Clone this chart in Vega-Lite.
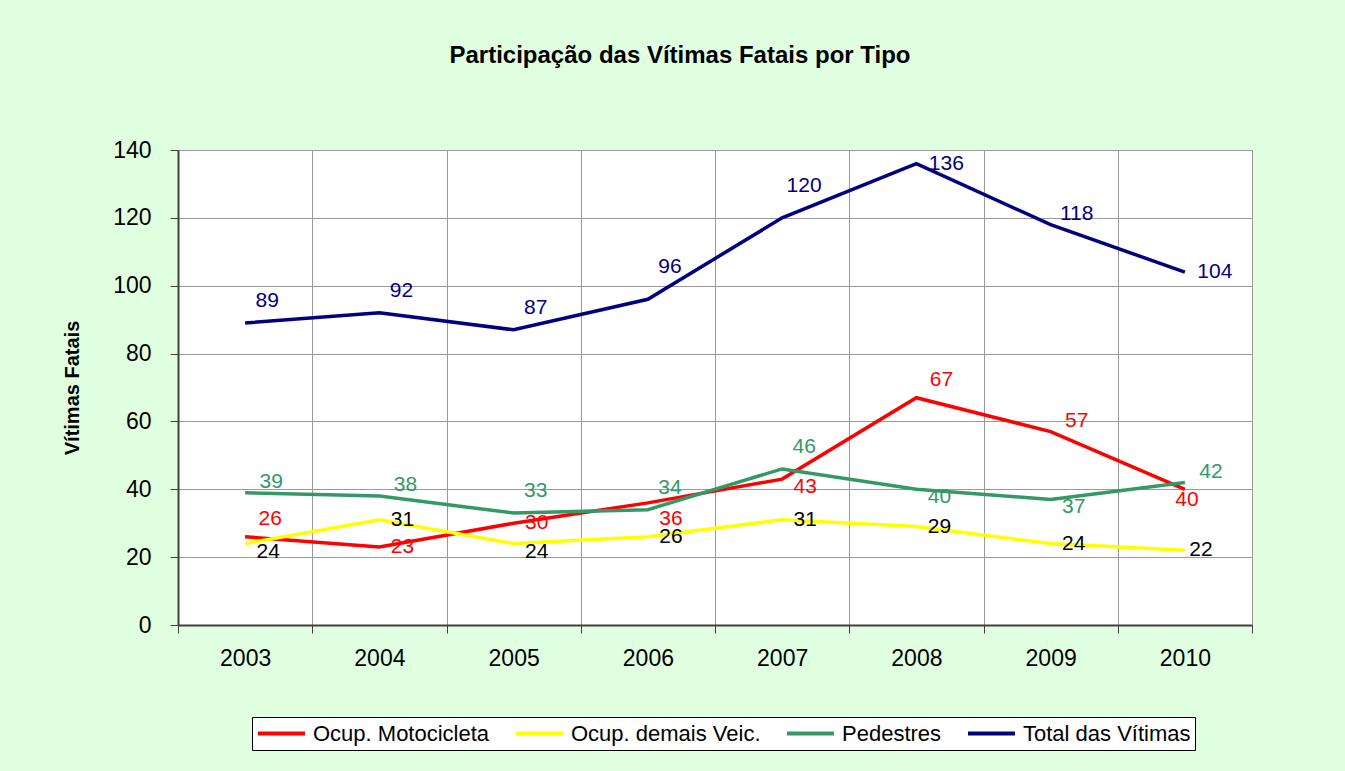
{
  "$schema": "https://vega.github.io/schema/vega-lite/v6.json",
  "width": 1074,
  "height": 475,
  "autosize": {"type": "none"},
  "padding": {"left": 178, "top": 150, "right": 93, "bottom": 146},
  "background": "#E0FFE0",
  "title": {"text": "Participação das Vítimas Fatais por Tipo", "fontSize": 24, "font": "Liberation Sans", "fontWeight": "bold", "color": "#000000", "anchor": "middle", "dx": -35, "offset": 52, "baseline": "alphabetic"},
  "config": {
    "view": {"stroke": "#999999", "fill": "#FFFFFF"},
    "font": "Liberation Sans"
  },
  "data": {"values": [
    {"year": "2003", "serie": "Ocup. Motocicleta", "s": "M", "v": 26},
    {"year": "2004", "serie": "Ocup. Motocicleta", "s": "M", "v": 23},
    {"year": "2005", "serie": "Ocup. Motocicleta", "s": "M", "v": 30},
    {"year": "2006", "serie": "Ocup. Motocicleta", "s": "M", "v": 36},
    {"year": "2007", "serie": "Ocup. Motocicleta", "s": "M", "v": 43},
    {"year": "2008", "serie": "Ocup. Motocicleta", "s": "M", "v": 67},
    {"year": "2009", "serie": "Ocup. Motocicleta", "s": "M", "v": 57},
    {"year": "2010", "serie": "Ocup. Motocicleta", "s": "M", "v": 40},
    {"year": "2003", "serie": "Ocup. demais Veic.", "s": "D", "v": 24},
    {"year": "2004", "serie": "Ocup. demais Veic.", "s": "D", "v": 31},
    {"year": "2005", "serie": "Ocup. demais Veic.", "s": "D", "v": 24},
    {"year": "2006", "serie": "Ocup. demais Veic.", "s": "D", "v": 26},
    {"year": "2007", "serie": "Ocup. demais Veic.", "s": "D", "v": 31},
    {"year": "2008", "serie": "Ocup. demais Veic.", "s": "D", "v": 29},
    {"year": "2009", "serie": "Ocup. demais Veic.", "s": "D", "v": 24},
    {"year": "2010", "serie": "Ocup. demais Veic.", "s": "D", "v": 22},
    {"year": "2003", "serie": "Pedestres", "s": "P", "v": 39},
    {"year": "2004", "serie": "Pedestres", "s": "P", "v": 38},
    {"year": "2005", "serie": "Pedestres", "s": "P", "v": 33},
    {"year": "2006", "serie": "Pedestres", "s": "P", "v": 34},
    {"year": "2007", "serie": "Pedestres", "s": "P", "v": 46},
    {"year": "2008", "serie": "Pedestres", "s": "P", "v": 40},
    {"year": "2009", "serie": "Pedestres", "s": "P", "v": 37},
    {"year": "2010", "serie": "Pedestres", "s": "P", "v": 42},
    {"year": "2003", "serie": "Total das Vítimas", "s": "T", "v": 89},
    {"year": "2004", "serie": "Total das Vítimas", "s": "T", "v": 92},
    {"year": "2005", "serie": "Total das Vítimas", "s": "T", "v": 87},
    {"year": "2006", "serie": "Total das Vítimas", "s": "T", "v": 96},
    {"year": "2007", "serie": "Total das Vítimas", "s": "T", "v": 120},
    {"year": "2008", "serie": "Total das Vítimas", "s": "T", "v": 136},
    {"year": "2009", "serie": "Total das Vítimas", "s": "T", "v": 118},
    {"year": "2010", "serie": "Total das Vítimas", "s": "T", "v": 104}
  ]},
  "encoding": {
    "x": {"field": "year", "type": "ordinal", "scale": {"type": "band", "paddingInner": 0, "paddingOuter": 0},
      "axis": {"title": null, "labelAngle": 0, "labelFontSize": 23, "labelColor": "#000000", "tickBand": "extent", "tickSize": 8, "tickColor": "#404040", "domainColor": "#404040", "domainWidth": 2, "grid": true, "gridColor": "#999999", "labelPadding": 14}},
    "y": {"field": "v", "type": "quantitative", "scale": {"domain": [0, 140], "nice": false},
      "axis": {"title": "Vítimas Fatais", "titleFontSize": 20, "titleFontWeight": "bold", "titleColor": "#000000", "titlePadding": 30, "values": [0, 20, 40, 60, 80, 100, 120, 140], "labelFontSize": 23, "labelColor": "#000000", "labelPadding": 19, "tickSize": 8, "tickColor": "#404040", "domainColor": "#404040", "domainWidth": 2, "grid": true, "gridColor": "#999999"}}
  },
  "layer": [
    {
      "mark": {"type": "line", "strokeWidth": 3.5},
      "encoding": {
        "color": {"field": "serie", "type": "nominal",
          "scale": {"domain": ["Ocup. Motocicleta", "Ocup. demais Veic.", "Pedestres", "Total das Vítimas"], "range": ["#FF0000", "#FFFF00", "#339966", "#000080"]},
          "legend": {"title": null, "orient": "none", "legendX": 74, "legendY": 567, "direction": "horizontal", "symbolType": "stroke", "symbolSize": 2209, "symbolStrokeWidth": 4, "labelFontSize": 22, "labelOffset": 6, "columnPadding": 24, "padding": 4, "fillColor": "#FFFFFF", "strokeColor": "#000000", "clipHeight": 25, "labelColor": "#000000", "labelLimit": 400}}
      }
    },
    {
      "transform": [{"filter": "indexof(['T2003','T2004','T2005','P2005','P2006','P2007'], datum.s + datum.year) >= 0"}],
      "mark": {"type": "text", "dx": 22, "dy": -22, "fontSize": 21, "align": "center", "baseline": "middle"},
      "encoding": {"text": {"field": "v"}, "color": {"condition": {"test": "datum.s === 'D'", "value": "#000000"}, "field": "serie", "type": "nominal"}}
    },
    {
      "transform": [{"filter": "indexof(['T2006','T2007'], datum.s + datum.year) >= 0"}],
      "mark": {"type": "text", "dx": 22, "dy": -32, "fontSize": 21, "align": "center", "baseline": "middle"},
      "encoding": {"text": {"field": "v"}, "color": {"condition": {"test": "datum.s === 'D'", "value": "#000000"}, "field": "serie", "type": "nominal"}}
    },
    {
      "transform": [{"filter": "indexof(['T2008','T2010'], datum.s + datum.year) >= 0"}],
      "mark": {"type": "text", "dx": 30, "dy": 0, "fontSize": 21, "align": "center", "baseline": "middle"},
      "encoding": {"text": {"field": "v"}, "color": {"condition": {"test": "datum.s === 'D'", "value": "#000000"}, "field": "serie", "type": "nominal"}}
    },
    {
      "transform": [{"filter": "indexof(['T2009','P2003','P2004','P2010','M2009'], datum.s + datum.year) >= 0"}],
      "mark": {"type": "text", "dx": 26, "dy": -11, "fontSize": 21, "align": "center", "baseline": "middle"},
      "encoding": {"text": {"field": "v"}, "color": {"condition": {"test": "datum.s === 'D'", "value": "#000000"}, "field": "serie", "type": "nominal"}}
    },
    {
      "transform": [{"filter": "indexof(['M2003','M2008'], datum.s + datum.year) >= 0"}],
      "mark": {"type": "text", "dx": 25, "dy": -18, "fontSize": 21, "align": "center", "baseline": "middle"},
      "encoding": {"text": {"field": "v"}, "color": {"condition": {"test": "datum.s === 'D'", "value": "#000000"}, "field": "serie", "type": "nominal"}}
    },
    {
      "transform": [{"filter": "indexof(['M2004','M2005','D2004','D2006','D2007','D2008','D2009'], datum.s + datum.year) >= 0"}],
      "mark": {"type": "text", "dx": 23, "dy": 0, "fontSize": 21, "align": "center", "baseline": "middle"},
      "encoding": {"text": {"field": "v"}, "color": {"condition": {"test": "datum.s === 'D'", "value": "#000000"}, "field": "serie", "type": "nominal"}}
    },
    {
      "transform": [{"filter": "indexof(['M2007','P2008','P2009','D2003','D2005'], datum.s + datum.year) >= 0"}],
      "mark": {"type": "text", "dx": 23, "dy": 8, "fontSize": 21, "align": "center", "baseline": "middle"},
      "encoding": {"text": {"field": "v"}, "color": {"condition": {"test": "datum.s === 'D'", "value": "#000000"}, "field": "serie", "type": "nominal"}}
    },
    {
      "transform": [{"filter": "indexof(['M2006'], datum.s + datum.year) >= 0"}],
      "mark": {"type": "text", "dx": 23, "dy": 16, "fontSize": 21, "align": "center", "baseline": "middle"},
      "encoding": {"text": {"field": "v"}, "color": {"condition": {"test": "datum.s === 'D'", "value": "#000000"}, "field": "serie", "type": "nominal"}}
    },
    {
      "transform": [{"filter": "indexof(['M2010'], datum.s + datum.year) >= 0"}],
      "mark": {"type": "text", "dx": 2, "dy": 11, "fontSize": 21, "align": "center", "baseline": "middle"},
      "encoding": {"text": {"field": "v"}, "color": {"condition": {"test": "datum.s === 'D'", "value": "#000000"}, "field": "serie", "type": "nominal"}}
    },
    {
      "transform": [{"filter": "indexof(['D2010'], datum.s + datum.year) >= 0"}],
      "mark": {"type": "text", "dx": 16, "dy": 0, "fontSize": 21, "align": "center", "baseline": "middle"},
      "encoding": {"text": {"field": "v"}, "color": {"condition": {"test": "datum.s === 'D'", "value": "#000000"}, "field": "serie", "type": "nominal"}}
    }
  ]
}
